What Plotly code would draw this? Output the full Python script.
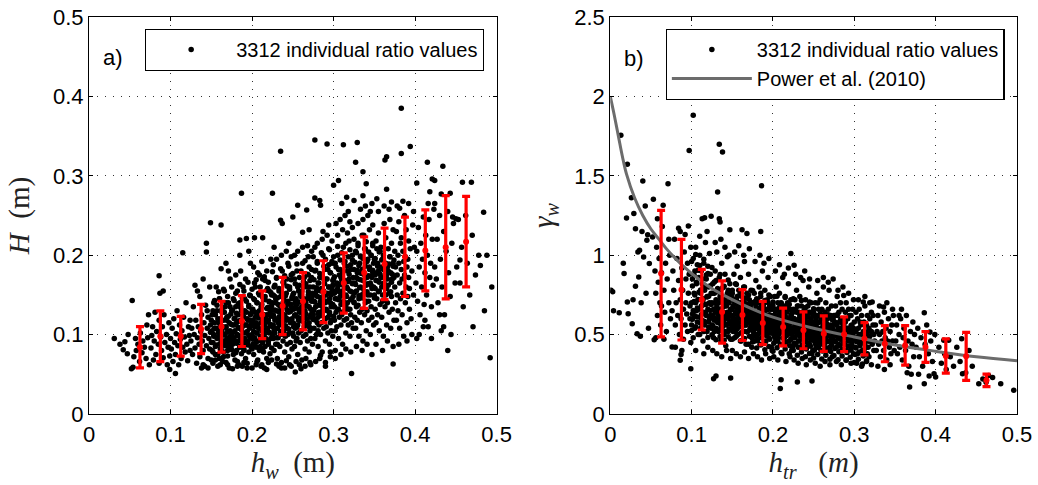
import plotly.graph_objects as go

# ---------------- DATA ----------------
# Panel a: individual values (h_w in mm, H in mm)
pts_a = [
    (383,385),(277,345),(292,340),(312,339),(329,342),(235,331),(394,337),(383,328),(363,320),(365,324),
    (327,317),(415,317),(434,312),(458,292),(306,294),(300,288),(336,305),(340,290),(402,291),(421,296),
    (424,294),(469,292),(424,265),(418,280),(432,277),(443,278),(187,278),(225,278),(149,241),(162,238),
    (484,254),(446,248),(450,246),(455,194),(488,200),(480,187),(494,160),(471,110),(492,71),(440,80),
    (435,110),(430,125),(410,110),(402,95),(373,63),(322,51),(253,53),(106,51),(99,56),(52,57),(54,59),
    (31,95),(44,91),(42,81),(53,143),(86,174),(91,155),(87,152),(115,203),(144,215),(144,204),(185,219),
    (193,221),(203,222),(213,222),(235,244),(237,240),(250,248),(256,263),(267,257),(277,272),(283,269),
    (284,263),(316,273),(325,269),(336,275),(353,271),(365,283),(371,267),(381,259),
    (38,88),(47,76),(48,100),
    (55,72),(57,95),(58,80),(60,88),(62,66),(63,102),(65,77),(66,92),(68,84),(70,70),(71,112),(72,96),(74,62),(73,125),
    (76,83),(77,99),(78,110),(79,68),(80,92),(81,128),(82,75),(83,104),(85,88),(86,118),(86,64),(88,97),(89,80),
    (90,110),(91,71),(92,125),(93,90),(95,100),(96,62),(97,84),(98,115),(99,73),
    (100,95),(101,82),(102,108),(103,66),(104,120),(105,90),(106,75),(107,101),(108,130),(109,86),(110,62),(111,112),
    (112,94),(113,70),(114,105),(115,84),(116,122),(117,97),(118,78),(119,140),(120,88),(121,67),(122,110),(123,99),
    (124,80),(124,118),
    (125,92),(126,108),(127,75),(128,135),(129,100),(130,83),(131,118),(132,64),(133,96),(134,110),(135,88),(136,148),
    (136,72),(137,104),(138,125),(139,92),(140,80),(141,115),(142,60),(142,99),(143,137),(144,86),(145,108),(146,70),
    (146,122),(147,95),(148,160),(148,82),(149,112),(149,103),(140,170),(133,155),(138,58),(145,130),(130,162),
    (150,90),(151,105),(151,125),(152,78),(153,98),(153,140),(154,115),(155,85),(155,68),(156,108),(157,95),(157,130),
    (158,120),(158,75),(159,102),(160,88),(160,145),(161,112),(161,62),(162,97),(162,82),(163,128),(163,105),(164,92),
    (165,118),(165,72),(166,100),(166,155),(167,86),(167,135),(168,110),(168,65),(169,95),(169,122),(170,80),(170,104),
    (171,140),(171,90),(172,115),(172,58),(173,98),(173,170),(174,84),(174,126),(162,183),(168,190),(156,160),(171,180),
    (175,100),(175,130),(176,88),(176,112),(177,75),(177,145),(178,96),(178,120),(179,105),(179,68),(180,90),(180,135),
    (181,115),(181,80),(182,100),(182,155),(183,92),(183,125),(184,108),(184,62),(185,85),(185,140),(186,118),(186,98),
    (187,76),(187,130),(188,110),(188,90),(189,160),(189,102),(190,82),(190,122),(191,95),(191,145),(192,70),(192,112),
    (193,128),(193,88),(194,104),(194,58),(195,118),(195,92),(196,135),(196,78),(197,108),(197,150),(198,96),(198,125),
    (199,84),(199,113),(180,175),(186,180),(192,170),(198,190),(185,200),(196,205),(190,65),(182,60),
    (200,100),(200,132),(201,88),(201,118),(202,145),(202,75),(203,110),(203,96),(204,128),(204,160),(205,84),(205,115),
    (206,102),(206,140),(207,92),(207,68),(208,122),(208,108),(209,150),(209,80),(210,98),(210,130),(211,115),(211,60),
    (212,105),(212,138),(213,90),(213,170),(214,125),(214,78),(215,112),(215,100),(216,148),(216,85),(217,120),(217,95),
    (218,133),(218,70),(219,108),(219,158),(220,88),(220,118),(221,102),(221,142),(222,128),(222,76),(223,95),(223,112),
    (224,136),(224,83),(202,185),(207,178),(212,192),(218,180),(223,195),(205,62),(215,58),(220,65),(209,175),(216,168),
    (203,165),(221,155),(206,125),(211,92),(217,105),(213,82),(224,150),
    (225,110),(225,140),(226,95),(226,125),(227,160),(227,80),(228,118),(228,102),(229,145),(229,88),(230,130),(230,172),
    (231,108),(231,70),(232,138),(232,96),(233,122),(233,155),(234,85),(234,112),(235,148),(235,100),(236,128),(236,65),
    (237,115),(237,180),(238,92),(238,140),(239,105),(239,165),(240,78),(240,125),(241,135),(241,98),(242,152),(242,118),
    (243,88),(243,108),(244,142),(244,190),(245,72),(245,128),(246,102),(246,160),(247,115),(247,90),(248,135),(248,175),
    (249,82),(249,120),(230,195),(236,200),(242,205),(248,198),(226,188),(233,60),(240,58),(246,62),(228,148),(234,130),
    (239,118),(244,100),(249,145),(227,105),(232,115),(237,150),(243,170),(231,88),(247,138),(227,210),(245,215),
    (250,115),(250,150),(251,98),(251,132),(252,170),(252,85),(253,125),(253,108),(254,145),(254,92),(255,138),(255,180),
    (256,112),(256,75),(257,155),(257,102),(258,128),(258,162),(259,90),(259,118),(260,148),(260,105),(261,135),(261,68),
    (262,122),(262,190),(263,98),(263,142),(264,110),(264,172),(265,82),(265,130),(266,140),(266,100),(267,160),(267,120),
    (268,92),(268,112),(269,150),(269,198),(270,78),(270,135),(271,105),(271,168),(272,125),(272,95),(273,145),(273,182),
    (274,88),(274,128),(256,205),(262,210),(268,212),(273,205),(252,200),(258,62),(265,60),(271,65),(253,140),(259,132),
    (264,122),(270,115),(274,152),(251,110),(257,118),(263,160),(269,175),(255,95),(272,108),(262,229),(270,232),
    (275,125),(275,160),(276,108),(276,142),(277,180),(277,95),(278,135),(278,118),(279,155),(279,100),(280,148),(280,192),
    (281,122),(281,85),(282,165),(282,112),(283,138),(283,172),(284,100),(284,128),(285,158),(285,115),(286,145),(286,78),
    (287,132),(287,200),(288,108),(288,152),(289,120),(289,182),(290,92),(290,140),(291,150),(291,110),(292,170),(292,130),
    (293,102),(293,122),(294,160),(294,208),(295,88),(295,145),(296,115),(296,178),(297,135),(297,105),(298,155),(298,192),
    (299,98),(299,138),(280,215),(286,220),(292,225),(298,218),(277,210),(283,70),(290,65),(296,72),(278,150),(284,142),
    (289,132),(295,125),(299,162),(276,120),(282,128),(288,170),(294,188),(281,105),(297,118),(287,230),(294,238),
    (300,135),(300,170),(301,118),(301,152),(302,190),(302,105),(303,145),(303,128),(304,165),(304,110),(305,158),(305,200),
    (306,132),(306,95),(307,175),(307,122),(308,148),(308,182),(309,112),(309,138),(310,168),(310,125),(311,155),(311,88),
    (312,142),(312,210),(313,118),(313,162),(314,130),(314,192),(315,102),(315,150),(316,160),(316,120),(317,180),(317,140),
    (318,112),(318,132),(319,170),(319,218),(320,98),(320,155),(321,125),(321,188),(322,145),(322,115),(323,165),(323,200),
    (324,108),(324,148),(305,225),(311,232),(317,228),(323,235),(302,80),(309,75),(315,82),(321,78),(308,245),(314,250),
    (320,242),(303,240),(318,255),(310,265),
    (325,140),(325,182),(326,122),(326,165),(327,205),(327,108),(328,155),(328,135),(329,178),(329,118),(330,170),(330,215),
    (331,145),(331,98),(332,190),(332,128),(333,160),(333,198),(334,115),(334,150),(335,182),(335,132),(336,168),(336,92),
    (337,152),(337,225),(338,125),(338,175),(339,140),(339,208),(340,105),(340,162),(341,172),(341,130),(342,195),(342,150),
    (343,118),(343,142),(344,185),(344,232),(345,100),(345,165),(346,135),(346,200),(347,158),(347,122),(348,178),(348,215),
    (349,112),(349,160),(330,240),(336,245),(342,250),(348,238),(328,85),(335,80),(341,88),(347,75),(333,258),(339,262),
    (345,255),(347,265),
    (350,150),(350,195),(351,132),(351,175),(352,218),(352,115),(353,168),(353,145),(354,190),(354,125),(355,180),(355,228),
    (356,155),(356,105),(357,205),(357,138),(358,172),(358,210),(359,122),(359,160),(360,195),(360,142),(361,182),(361,98),
    (362,165),(362,240),(363,135),(363,188),(364,150),(364,222),(365,112),(365,175),(366,185),(366,140),(367,208),(367,162),
    (368,128),(368,152),(369,198),(369,245),(370,108),(370,178),(371,148),(371,215),(372,170),(372,132),(373,190),(373,232),
    (374,118),(374,172),(355,255),(362,262),(368,258),(352,88),(360,80),(366,92),(373,85),
    (375,160),(375,205),(376,140),(376,185),(377,230),(377,118),(378,175),(378,150),(379,200),(379,130),(380,190),(380,242),
    (381,165),(381,108),(382,215),(382,145),(383,182),(383,222),(384,125),(384,170),(385,205),(385,152),(386,192),(386,98),
    (387,175),(387,250),(388,140),(388,198),(389,160),(389,232),(390,115),(390,185),(391,195),(391,148),(392,218),(392,172),
    (393,132),(393,158),(394,208),(395,120),(396,180),(397,238),(398,150),(399,210),(378,262),(385,268),(392,265),(398,255),
    (380,88),(390,92),(396,100),
    (401,165),(402,205),(403,142),(404,235),(405,185),(406,125),(407,215),(408,160),(409,195),(410,248),(411,138),(412,178),
    (413,225),(414,150),(415,200),(416,110),(417,245),(418,172),(419,190),(420,135),(421,220),(422,162),(423,258),(424,185),
    (405,100),(412,118),(420,95),(416,265),
    (426,170),(427,220),(428,140),(430,250),(431,195),(433,160),(435,230),(436,125),(438,205),(440,255),(441,178),(443,148),
    (445,215),(447,240),(449,165),(432,105),(444,100),
    (451,185),(453,245),(455,165),(457,210),(459,135),(462,250),(464,190),(467,150),(470,225),(474,175),(478,200),(485,130),
]

# Panel a: dense core of the cloud (h_w in mm, H in mm)
core_a = [
    (150,68),(151,80),(152,90),(153,100),(154,108),(150,118),(152,130),(154,143),
    (155,75),(156,87),(157,97),(158,106),(159,115),(155,125),(157,137),(159,154),
    (160,70),(161,82),(162,92),(163,102),(164,110),(161,120),(163,132),(160,145),
    (165,78),(166,90),(167,100),(168,109),(169,118),(166,128),(168,140),(165,157),
    (170,73),(171,85),(172,95),(173,105),(174,113),(171,123),(173,135),(170,148),
    (175,81),(176,93),(177,103),(178,112),(179,121),(176,131),(178,143),(175,160),
    (180,77),(181,89),(182,99),(183,109),(184,117),(181,127),(183,139),(180,152),
    (185,84),(186,96),(187,106),(188,115),(189,124),(186,134),(188,146),(185,163),
    (190,80),(191,92),(192,102),(193,112),(194,120),(191,130),(193,142),(190,155),
    (195,87),(196,99),(197,109),(198,118),(199,127),(196,137),(198,149),(195,166),
    (200,82),(201,94),(202,104),(203,114),(204,122),(201,132),(203,144),(200,157),
    (205,90),(206,102),(207,112),(208,121),(209,130),(206,140),(208,152),(205,169),
    (210,85),(211,97),(212,107),(213,117),(214,125),(211,135),(213,147),(210,160),
    (215,94),(216,106),(217,116),(218,125),(219,134),(216,144),(218,156),(215,173),
    (220,91),(221,103),(222,113),(223,123),(224,131),(221,141),(223,153),(220,166),
    (225,100),(226,112),(227,122),(228,131),(229,140),(226,150),(228,162),(225,179),
    (230,96),(231,108),(232,118),(233,128),(234,136),(231,146),(233,158),(230,171),
    (235,104),(236,116),(237,126),(238,135),(239,144),(236,154),(238,166),(235,183),
    (240,99),(241,111),(242,121),(243,131),(244,139),(241,149),(243,161),(240,174),
    (245,107),(246,119),(247,129),(248,138),(249,147),(246,157),(248,169),(245,186),
    (250,102),(251,114),(252,124),(253,134),(254,142),(251,152),(253,164),(250,177),
    (255,110),(256,122),(257,132),(258,141),(259,150),(256,160),(258,172),(255,189),
    (260,105),(261,117),(262,127),(263,137),(264,145),(261,155),(263,167),(260,180),
    (265,114),(266,126),(267,136),(268,145),(269,154),(266,164),(268,176),(265,193),
    (270,110),(271,122),(272,132),(273,142),(274,150),(271,160),(273,172),(270,185),
    (275,119),(276,131),(277,141),(278,150),(279,159),(276,169),(278,181),(275,198),
    (280,115),(281,127),(282,137),(283,147),(284,155),(281,165),(283,177),(280,190),
    (285,124),(286,136),(287,146),(288,155),(289,164),(286,174),(288,186),(285,203),
    (290,120),(291,132),(292,142),(293,152),(294,160),(291,170),(293,182),(290,195),
    (295,128),(296,140),(297,150),(298,159),(299,168),(296,178),(298,190),(295,207),
    (300,123),(301,135),(302,145),(303,155),(304,163),(301,173),(303,185),(300,198),
    (305,132),(306,144),(307,154),(308,163),(309,172),(306,182),(308,194),(305,211),
    (310,128),(311,140),(312,150),(313,160),(314,168),(311,178),(313,190),(310,203),
    (315,136),(316,148),(317,158),(318,167),(319,176),(316,186),(318,198),(315,215),
    (320,132),(321,144),(322,154),(323,164),(324,172),(321,182),(323,194),(320,207),
    (325,141),(326,153),(327,163),(328,172),(329,181),(326,191),(328,203),(325,220),
    (330,137),(331,149),(332,159),(333,169),(334,177),(331,187),(333,199),(330,212),
    (335,146),(336,158),(337,168),(338,177),(339,186),(336,196),(338,208),(335,225),
    (340,142),(341,154),(342,164),(343,174),(344,182),(341,192),(343,204),(340,217),
    (345,150),(346,162),(347,172),(348,181),(349,190),(346,200),(348,212),
    (350,146),(351,158),(352,168),(353,178),(354,186),(351,196),(353,208),
    (355,154),(356,166),(357,176),(358,185),(359,194),(356,204),
    (360,150),(361,162),(362,172),(363,182),(364,190),(361,200),
    (365,158),(366,170),(367,180),(368,189),(369,198),
    (370,154),(371,166),(372,176),(373,186),(374,194),
    (140,62),(146,58),(152,64),(158,60),(164,66),(170,62),(176,57),(182,66),(188,60),(194,64),
    (200,58),(206,66),(212,62),(218,56),(224,68),(230,63),(236,58),(242,67),(248,60),(254,66),
    (260,57),(266,70),(272,62),(278,66),(284,74),(290,60),(296,78),(302,70),
]

# Panel b: individual values (h_tr in mm, gamma_w x 1000)
pts_b = [
    (102,1881),(97,1660),(134,1698),(138,1650),(186,1438),(132,1398),(13,1755),(21,1572),(40,1467),(71,1450),
    (26,1362),(53,1352),(65,1314),(43,1310),(29,1262),(20,1234),(31,1167),(46,1129),(52,1115),(45,1094),
    (113,1230),(116,1236),(124,1245),(134,1230),(135,1209),(147,1161),(162,1161),(168,1136),(185,1150),(96,1184),
    (222,1010),(226,936),(1,780),(3,770),(4,650),(11,638),(16,949),(17,884),(21,705),(22,632),(27,569),(33,506),
    (37,489),(31,804),(35,863),(36,1031),(41,989),(48,947),(54,468),(76,422),(86,338),(87,374),(99,285),(127,222),
    (130,239),(148,227),(209,160),(210,216),(230,201),(248,208),(368,170),(386,191),(398,254),(400,233),(433,254),
    (453,191),(465,243),(496,149),(386,638),(336,674),(322,705),(311,705),(287,747),(355,621),(393,516),(410,464),
    (416,464),(432,474),(411,380),
    (28,720),(38,700),(44,760),(47,540),(34,1020),(39,1150),
    (55,900),(56,760),(57,1050),(58,620),(59,830),(60,980),(61,700),(62,560),(63,890),(64,1180),(66,780),(67,640),
    (68,950),(69,520),(70,850),(72,700),(73,1000),(74,600),(56,480),(66,470),(72,1100),(58,1230),(63,680),
    (76,650),(77,900),(78,780),(79,1100),(80,560),(81,700),(82,980),(83,620),(84,840),(85,500),(86,1150),(86,720),
    (87,600),(88,920),(89,780),(90,470),(90,660),(91,1020),(92,560),(93,850),(93,700),(94,630),(95,950),(95,520),
    (96,760),(97,880),(98,600),(98,680),(99,1050),(99,450),(84,1170),(92,1130),(80,420),(88,400),
    (100,700),(100,560),(101,850),(101,630),(102,980),(102,480),(103,760),(103,620),(104,900),(104,540),(105,700),
    (105,1050),(106,650),(106,820),(107,580),(107,940),(108,720),(108,500),(109,860),(109,660),(110,610),(110,1000),
    (111,760),(111,540),(112,900),(112,680),(113,590),(113,820),(114,720),(114,460),(115,950),(115,640),(116,780),
    (116,560),(117,690),(117,1080),(118,620),(118,850),(119,740),(119,520),(120,930),(120,660),(121,580),(121,800),
    (122,700),(122,1010),(123,620),(123,880),(124,540),(124,760),(105,400),(115,380),(120,420),(110,1120),(119,1150),
    (125,700),(125,560),(126,820),(126,620),(127,660),(127,480),(128,760),(128,590),(129,900),(129,640),(130,540),
    (130,720),(131,680),(131,1020),(132,600),(132,790),(133,520),(133,700),(134,860),(134,620),(135,570),(135,740),
    (136,660),(136,460),(137,950),(137,610),(138,700),(138,550),(139,800),(139,640),(140,590),(140,500),(141,720),
    (141,880),(142,620),(142,430),(143,680),(143,560),(144,760),(144,990),(145,600),(145,520),(146,700),(146,640),
    (147,580),(147,820),(148,660),(148,470),(149,740),(149,560),(126,400),(131,380),(137,360),(143,400),(148,350),
    (129,1080),(136,1100),(141,1050),(146,1000),(133,650),(139,580),(145,780),(128,520),(142,690),
    (150,620),(150,760),(151,540),(151,680),(152,880),(152,600),(153,700),(153,480),(154,640),(154,820),(155,560),
    (155,720),(156,660),(156,930),(157,600),(157,500),(158,780),(158,640),(159,700),(159,550),(160,620),(160,860),
    (161,680),(161,460),(162,580),(162,740),(163,640),(163,520),(164,800),(164,600),(165,700),(165,960),(166,560),
    (166,650),(167,620),(167,440),(168,760),(168,580),(169,690),(169,520),(170,640),(170,880),(171,600),(171,720),
    (172,540),(172,670),(173,780),(173,620),(174,480),(174,700),(150,400),(155,380),(160,360),(165,390),(170,350),
    (174,420),(153,1020),(158,1060),(164,1000),(171,1040),(152,580),(157,690),(162,640),(167,730),(172,600),(154,520),
    (159,610),(166,590),(173,560),(156,740),(161,620),(169,580),(151,600),(163,700),(168,660),
    (175,580),(175,700),(176,520),(176,640),(177,760),(177,560),(178,620),(178,460),(179,680),(179,840),(180,540),
    (180,600),(181,720),(181,500),(182,640),(182,580),(183,800),(183,530),(184,660),(184,440),(185,600),(185,740),
    (186,560),(186,680),(187,620),(187,900),(188,500),(188,580),(189,700),(189,640),(190,540),(190,780),(191,600),
    (191,460),(192,660),(192,560),(193,720),(193,520),(194,600),(194,860),(195,580),(195,480),(196,680),(196,620),
    (197,540),(197,740),(198,600),(198,420),(199,660),(199,560),(176,380),(181,360),(186,340),(191,380),(196,350),
    (199,400),(178,960),(184,1000),(189,950),(195,980),(177,620),(182,700),(187,540),(192,620),(197,660),(179,560),
    (184,600),(189,520),(194,700),(176,580),(183,640),(188,680),(193,580),(198,520),(180,480),(190,500),(186,610),
    (196,560),
    (200,560),(200,680),(201,500),(201,620),(202,740),(202,540),(203,600),(203,460),(204,660),(204,800),(205,520),
    (205,580),(206,700),(206,480),(207,620),(207,560),(208,760),(208,510),(209,640),(209,440),(210,580),(210,700),
    (211,540),(211,660),(212,600),(212,860),(213,480),(213,560),(214,680),(214,620),(215,520),(215,740),(216,580),
    (216,440),(217,640),(217,540),(218,700),(218,500),(219,580),(219,820),(220,560),(220,460),(221,660),(221,600),
    (222,520),(222,720),(223,580),(223,400),(224,640),(224,540),(201,360),(206,340),(211,380),(216,330),(221,360),
    (224,420),(203,900),(208,940),(214,880),(219,920),(202,580),(207,660),(212,520),(217,600),(222,620),(204,540),
    (209,600),(214,480),(219,660),(201,560),(208,620),(213,640),(218,560),(223,500),(205,460),(215,490),(211,590),
    (220,540),
    (225,540),(225,660),(226,480),(226,600),(227,720),(227,520),(228,580),(228,440),(229,640),(229,780),(230,500),
    (230,560),(231,680),(231,460),(232,600),(232,540),(233,740),(233,490),(234,620),(234,420),(235,560),(235,680),
    (236,520),(236,640),(237,580),(237,840),(238,460),(238,540),(239,660),(239,600),(240,500),(240,720),(241,560),
    (241,420),(242,620),(242,520),(243,680),(243,480),(244,560),(244,800),(245,540),(245,440),(246,640),(246,580),
    (247,500),(247,700),(248,560),(248,380),(249,620),(249,520),(226,340),(231,320),(236,350),(241,310),(246,340),
    (249,400),(228,880),(234,860),(239,900),(245,850),(227,560),(232,640),(237,500),(242,580),(247,600),(229,520),
    (234,580),(239,460),(244,640),(226,540),(233,600),(238,620),(243,540),(248,480),
    (250,520),(250,640),(251,460),(251,580),(252,700),(252,500),(253,560),(253,420),(254,620),(254,760),(255,480),
    (255,540),(256,660),(256,440),(257,580),(257,520),(258,720),(258,470),(259,600),(259,400),(260,540),(260,660),
    (261,500),(261,620),(262,560),(262,800),(263,440),(263,520),(264,640),(264,580),(265,480),(265,700),(266,540),
    (266,400),(267,600),(267,500),(268,660),(268,460),(269,540),(269,780),(270,520),(270,420),(271,620),(271,560),
    (272,480),(272,680),(273,540),(273,360),(274,600),(274,500),(252,320),(258,300),(264,330),(270,310),(255,840),
    (262,860),(268,830),(274,850),(253,580),(259,500),(265,560),(271,460),(257,620),(263,600),(269,520),(261,460),
    (275,520),(275,620),(276,460),(276,580),(277,680),(277,500),(278,560),(278,420),(279,620),(279,740),(280,480),
    (280,540),(281,640),(281,440),(282,580),(282,520),(283,700),(283,470),(284,600),(284,400),(285,540),(285,660),
    (286,500),(286,600),(287,560),(288,440),(288,520),(289,640),(289,580),(290,480),(290,700),(291,540),(291,400),
    (292,600),(292,500),(293,660),(293,460),(294,540),(295,520),(296,420),(296,620),(297,560),(298,480),(298,660),
    (299,540),(299,380),(278,330),(284,310),(290,340),(296,320),(280,780),(286,800),(293,760),(299,720),(282,580),
    (288,500),(294,620),(297,460),
    (300,480),(300,580),(301,420),(302,640),(302,520),(303,460),(304,600),(304,380),(305,540),(306,500),(306,660),
    (307,440),(308,560),(309,480),(309,620),(310,400),(311,520),(312,580),(312,460),(313,680),(314,500),(315,420),
    (315,560),(316,620),(317,480),(318,540),(318,360),(319,600),(320,460),(321,520),(321,640),(322,440),(323,560),
    (324,500),(324,400),(303,320),(309,300),(315,330),(321,310),(305,720),(313,740),(319,700),(307,580),(317,520),
    (323,620),
    (325,460),(326,560),(327,400),(328,520),(329,620),(330,440),(331,500),(332,360),(333,580),(334,460),(335,520),
    (336,400),(337,640),(338,480),(339,540),(340,340),(341,460),(342,600),(343,420),(344,520),(345,380),(346,560),
    (347,460),(348,620),(349,400),(329,300),(337,280),(344,310),(331,680),(340,700),(347,660),
    (351,460),(352,560),(353,380),(355,500),(356,420),(357,600),(359,340),(360,480),(361,540),(363,400),(364,620),
    (366,460),(367,300),(369,520),(371,440),(372,580),(373,360),(374,500),(358,660),(365,260),(370,250),
    (376,420),(378,540),(380,360),(382,480),(384,300),(387,440),(389,560),(391,380),(394,460),(396,330),(399,500),
    (379,250),(392,240),
    (404,420),(407,320),(413,280),(418,360),(422,300),(426,420),(430,330),(437,260),(441,400),(445,300),(458,220),
    (462,200),(470,230),(480,190),
]

# Panel b: dense core of the cloud (h_tr in mm, gamma_w x 1000)
core_b = [
    (100,526),(101,596),(102,652),(103,708),(104,750),(101,806),(103,876),(100,960),
    (105,549),(106,612),(107,668),(108,721),(109,766),(106,829),(108,906),(105,1004),
    (110,501),(111,571),(112,627),(113,683),(114,725),(111,781),(113,851),(110,935),
    (115,519),(116,582),(117,638),(118,691),(119,736),(116,799),(118,876),(115,974),
    (120,482),(121,547),(122,599),(123,651),(124,690),(121,742),(123,807),(120,885),
    (125,499),(126,558),(127,610),(128,659),(129,701),(126,760),(128,831),(125,922),
    (130,468),(131,528),(132,576),(133,624),(134,660),(131,708),(133,768),(130,840),
    (135,488),(136,542),(137,590),(138,636),(139,674),(136,728),(138,794),(135,878),
    (140,464),(141,519),(142,563),(143,607),(144,640),(141,684),(143,739),(140,805),
    (145,486),(146,536),(147,580),(148,622),(149,657),(146,707),(148,767),(145,844),
    (150,470),(151,520),(152,560),(153,600),(154,630),(151,670),(153,720),(150,780),
    (155,490),(156,535),(157,575),(158,613),(159,645),(156,690),(158,745),(155,815),
    (160,460),(161,510),(162,550),(163,590),(164,620),(161,660),(163,710),(160,770),
    (165,475),(166,520),(167,560),(168,598),(169,630),(166,675),(168,730),(165,800),
    (170,440),(171,490),(172,530),(173,570),(174,600),(171,640),(173,690),(170,750),
    (175,453),(176,498),(177,538),(178,576),(179,608),(176,653),(178,708),(175,778),
    (180,415),(181,465),(182,505),(183,545),(184,575),(181,615),(183,665),(180,725),
    (185,435),(186,480),(187,520),(188,558),(189,590),(186,635),(188,690),(185,760),
    (190,405),(191,455),(192,495),(193,535),(194,565),(191,605),(193,655),(190,715),
    (195,425),(196,470),(197,510),(198,548),(199,580),(196,625),(198,680),(195,750),
    (200,395),(201,445),(202,485),(203,525),(204,555),(201,595),(203,645),(200,705),
    (205,417),(206,462),(207,502),(208,540),(209,572),(206,617),(208,672),(205,742),
    (210,388),(211,438),(212,478),(213,518),(214,548),(211,588),(213,638),(210,698),
    (215,409),(216,454),(217,494),(218,532),(219,564),(216,609),(218,664),(215,734),
    (220,380),(221,430),(222,470),(223,510),(224,540),(221,580),(223,630),(220,690),
    (225,400),(226,445),(227,485),(228,523),(229,555),(226,600),(228,655),(225,725),
    (230,370),(231,420),(232,460),(233,500),(234,530),(231,570),(233,620),(230,680),
    (235,390),(236,435),(237,475),(238,513),(239,545),(236,590),(238,645),(235,715),
    (240,360),(241,410),(242,450),(243,490),(244,520),(241,560),(243,610),(240,670),
    (245,381),(246,426),(247,466),(248,504),(249,536),(246,581),(248,636),(245,706),
    (250,352),(251,402),(252,442),(253,482),(254,512),(251,552),(253,602),(250,662),
    (255,374),(256,419),(257,459),(258,497),(259,529),(256,574),(258,629),(255,699),
    (260,346),(261,396),(262,436),(263,476),(264,506),(261,546),(263,596),(260,656),
    (265,370),(266,415),(267,455),(268,493),(269,525),(266,570),(268,625),
    (270,344),(271,394),(272,434),(273,474),(274,504),(271,544),(273,594),
    (275,368),(276,413),(277,453),(278,491),(279,523),(276,568),(278,623),
    (280,342),(281,392),(282,432),(283,472),(284,502),(281,542),(283,592),
    (285,365),(286,410),(287,450),(288,488),(289,520),(286,565),
    (290,338),(291,388),(292,428),(293,468),(294,498),(291,538),
    (295,357),(296,402),(297,442),(298,480),(299,512),(296,557),
    (300,325),(301,375),(302,415),(303,455),(304,485),(301,525),
    (305,345),(306,390),(307,430),(308,468),(309,500),
    (310,315),(311,365),(312,405),(313,445),(314,475),
    (315,335),(316,380),(317,420),(318,458),(319,490),
]

# Bin statistics (error bars)
bin_centers = [0.0625, 0.0875, 0.1125, 0.1375, 0.1625, 0.1875, 0.2125, 0.2375, 0.2625,
               0.2875, 0.3125, 0.3375, 0.3625, 0.3875, 0.4125, 0.4375, 0.4625]
H_mean = [0.084, 0.098, 0.098, 0.107, 0.110, 0.117, 0.125, 0.136, 0.142,
          0.154, 0.165, 0.178, 0.189, 0.198, 0.206, 0.210, 0.217]
H_std = [0.026, 0.032, 0.025, 0.031, 0.032, 0.032, 0.030, 0.036, 0.036,
         0.039, 0.038, 0.045, 0.045, 0.050, 0.051, 0.065, 0.057]
gam_mean = [0.884, 0.783, 0.720, 0.642, 0.623, 0.573, 0.548, 0.527, 0.506,
            0.502, 0.474, 0.443, 0.432, 0.422, 0.365, 0.363, 0.212]
gam_std = [0.398, 0.317, 0.191, 0.196, 0.160, 0.136, 0.119, 0.116, 0.112,
           0.109, 0.102, 0.114, 0.124, 0.097, 0.108, 0.151, 0.039]

# Power et al. (2010) curve
power_h = [0, 0.005, 0.01, 0.015, 0.02, 0.03, 0.04, 0.05, 0.06, 0.07, 0.08, 0.09, 0.10,
           0.125, 0.15, 0.175, 0.2, 0.25, 0.3, 0.35, 0.4, 0.45, 0.5]
power_g = [2.0, 1.88, 1.75, 1.62, 1.51, 1.36, 1.25, 1.165, 1.10, 1.035, 0.98, 0.93, 0.885,
           0.79, 0.72, 0.66, 0.61, 0.54, 0.485, 0.435, 0.395, 0.36, 0.335]

legend_label = "3312 individual ratio values"
power_label = "Power et al. (2010)"

# ---------------- FIGURE ----------------
all_a = pts_a + core_a
all_b = pts_b + core_b
xa = [p[0] / 1000 for p in all_a]
ya = [p[1] / 1000 for p in all_a]
xb = [p[0] / 1000 for p in all_b]
yb = [p[1] / 1000 for p in all_b]

RED = "#ff0000"
SANS = "Liberation Sans, Arial, sans-serif"
SERIF = "Liberation Serif, Times New Roman, serif"
NB = "\u00a0"
DOT = 5.5

fig = go.Figure()
fig.add_trace(go.Scatter(x=xa, y=ya, mode="markers", name=legend_label,
                         marker=dict(color="black", size=DOT), xaxis="x", yaxis="y",
                         legend="legend", showlegend=True))
fig.add_trace(go.Scatter(x=bin_centers, y=H_mean, mode="markers", showlegend=False,
                         marker=dict(color=RED, size=6),
                         error_y=dict(type="data", array=H_std, color=RED, thickness=3.2, width=4),
                         xaxis="x", yaxis="y"))

fig.add_trace(go.Scatter(x=xb, y=yb, mode="markers", name=legend_label,
                         marker=dict(color="black", size=DOT), xaxis="x2", yaxis="y2",
                         legend="legend2", showlegend=True))
fig.add_trace(go.Scatter(x=power_h, y=power_g, mode="lines", name=power_label,
                         line=dict(color="#6c6c6c", width=3, shape="spline"),
                         xaxis="x2", yaxis="y2", legend="legend2", showlegend=True))
fig.add_trace(go.Scatter(x=bin_centers, y=gam_mean, mode="markers", showlegend=False,
                         marker=dict(color=RED, size=6),
                         error_y=dict(type="data", array=gam_std, color=RED, thickness=3.2, width=4),
                         xaxis="x2", yaxis="y2"))

tickfont = dict(family=SANS, size=22, color="black")
titlefont = dict(family=SERIF, size=29, color="#222222")
common = dict(showgrid=True, gridcolor="#333333", gridwidth=1, griddash="1px,7px",
              showline=True, linecolor="black", linewidth=1.2, mirror="ticks",
              ticks="inside", ticklen=4, tickcolor="black", zeroline=False,
              tickfont=tickfont, automargin=False)

legend_common = dict(xanchor="left", yanchor="top", bgcolor="white",
                     bordercolor="black", borderwidth=1.2, itemwidth=80, tracegroupgap=0,
                     font=dict(family=SANS, size=20, color="black"))

fig.update_layout(
    width=1038, height=485,
    margin=dict(l=89, r=21, t=17, b=71, autoexpand=False),
    paper_bgcolor="white", plot_bgcolor="white",
    xaxis=dict(domain=[0.0, 0.4393], range=[0, 0.5], dtick=0.1, anchor="y",
               title=dict(text="<i>h</i><sub><i>w</i></sub>" + NB * 2 + "(m)", font=titlefont, standoff=4),
               **common),
    yaxis=dict(domain=[0.0, 1.0], range=[0, 0.5], dtick=0.1, anchor="x",
               title=dict(text="<i>H</i>" + NB * 2 + "(m)", font=titlefont, standoff=14), **common),
    xaxis2=dict(domain=[0.5617, 1.0], range=[0, 0.5], dtick=0.1, anchor="y2",
                title=dict(text="<i>h</i><sub><i>tr</i></sub>" + NB * 3 + "(<i>m</i>)", font=titlefont,
                           standoff=4), **common),
    yaxis2=dict(domain=[0.0, 1.0], range=[0, 2.5], dtick=0.5, anchor="x2",
                title=dict(text="<i>γ</i><sub><i>w</i></sub>", font=titlefont, standoff=12), **common),
    legend=dict(x=0.0603, y=0.970, **legend_common),
    legend2=dict(x=0.6214, y=0.970, **legend_common),
    annotations=[
        dict(text="a)", x=0.030, y=0.898, xref="x domain", yref="y domain", showarrow=False,
             xanchor="left", yanchor="middle", font=dict(family=SANS, size=22, color="black")),
        dict(text="b)", x=0.028, y=0.896, xref="x2 domain", yref="y2 domain", showarrow=False,
             xanchor="left", yanchor="middle", font=dict(family=SANS, size=22, color="black")),
    ],
)

# Remove the default page margin so the figure sits at the window's top-left corner,
# and hide the interactive toolbar.
fig.write_html("out.html", config={"displayModeBar": False},
               post_script="document.body.style.margin='0';")
